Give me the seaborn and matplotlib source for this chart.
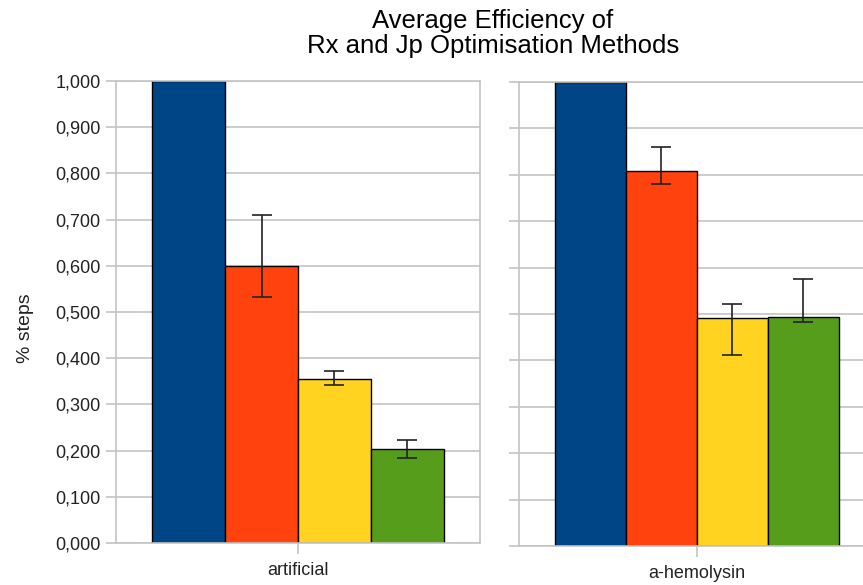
import numpy as np
import pandas as pd
import seaborn as sns
import matplotlib.pyplot as plt
from matplotlib.ticker import FuncFormatter

#   data
DATASETS = ['artificial', 'a-hemolysin']
METHODS = ['Baseline', 'Rx', 'Jp', 'Rx + Jp']
COLORS = ['#004586', '#ff420e', '#ffd320', '#579d1c']

artificial_mean = [1.000, 0.600, 0.355, 0.203]
artificial_low = [1.000, 0.533, 0.343, 0.185]
artificial_high = [1.000, 0.711, 0.372, 0.224]

hemolysin_mean = [1.000, 0.809, 0.491, 0.494]
hemolysin_low = [1.000, 0.780, 0.412, 0.483]
hemolysin_high = [1.000, 0.860, 0.522, 0.575]

Y_TICKS = np.arange(0, 1.01, 0.1)

sns.set_theme(style='white')
plt.rcParams['font.family'] = ['Liberation Sans', 'DejaVu Sans']

fig = plt.figure(figsize=(8.63, 5.85), dpi=100)
fig.patch.set_facecolor('white')

ax_left = fig.add_axes([0.1344, 0.0718, 0.4218, 0.7897])
ax_right = fig.add_axes([0.6014, 0.0667, 0.4114, 0.7932])

panels = [
    (ax_left, DATASETS[0], artificial_mean, artificial_low, artificial_high),
    (ax_right, DATASETS[1], hemolysin_mean, hemolysin_low, hemolysin_high),
]

grid_col = '#c3c3c3'
text_col = '#222222'

for i, (ax, name, mean, low, high) in enumerate(panels):
    df = pd.DataFrame({'dataset': name, 'method': METHODS, 'value': mean})
    sns.barplot(data=df, x='dataset', y='value', hue='method', hue_order=METHODS,
                palette=COLORS, saturation=1, width=0.8, errorbar=None,
                edgecolor='black', linewidth=1.0, legend=False, ax=ax, zorder=2)

    # asymmetric error bars, skipping the reference bar
    for j, bar in enumerate(ax.patches):
        if j == 0:
            continue
        x = bar.get_x() + bar.get_width() / 2
        ax.errorbar(x, mean[j], yerr=[[mean[j] - low[j]], [high[j] - mean[j]]],
                    fmt='none', ecolor=text_col, elinewidth=1.2,
                    capsize=7, capthick=1.2, zorder=3)

    ax.set_ylim(0, 1.0)
    ax.set_xlim(-0.5, 0.5)
    ax.set_yticks(Y_TICKS)
    ax.yaxis.grid(True, color=grid_col, linewidth=1.2, zorder=0)
    ax.set_axisbelow(True)
    for side in ['left', 'right', 'top', 'bottom']:
        ax.spines[side].set_color(grid_col)
        ax.spines[side].set_linewidth(1.2)
    ax.tick_params(axis='y', which='major', direction='out', length=7,
                   width=1.2, color=grid_col, left=True, pad=4,
                   labelsize=13, labelcolor=text_col)
    ax.tick_params(axis='x', which='major', direction='out', length=8,
                   width=1.2, color=grid_col, bottom=True, pad=6,
                   labelsize=13, labelcolor=text_col)
    ax.set_xlabel('')
    ax.set_ylabel('')
    if i == 0:
        ax.yaxis.set_major_formatter(FuncFormatter(lambda v, p: f'{v:.3f}'.replace('.', ',')))
        ax.set_ylabel('% steps', fontsize=14, color=text_col)
        ax.yaxis.set_label_coords(-0.225, 0.465)
    else:
        ax.set_yticklabels([])

fig.text(0.571, 0.985, 'Average Efficiency of\nRx and Jp Optimisation Methods',
         ha='center', va='top', fontsize=18.5, linespacing=1.05, color='black')

plt.savefig('out.png', dpi=100, facecolor='white')
